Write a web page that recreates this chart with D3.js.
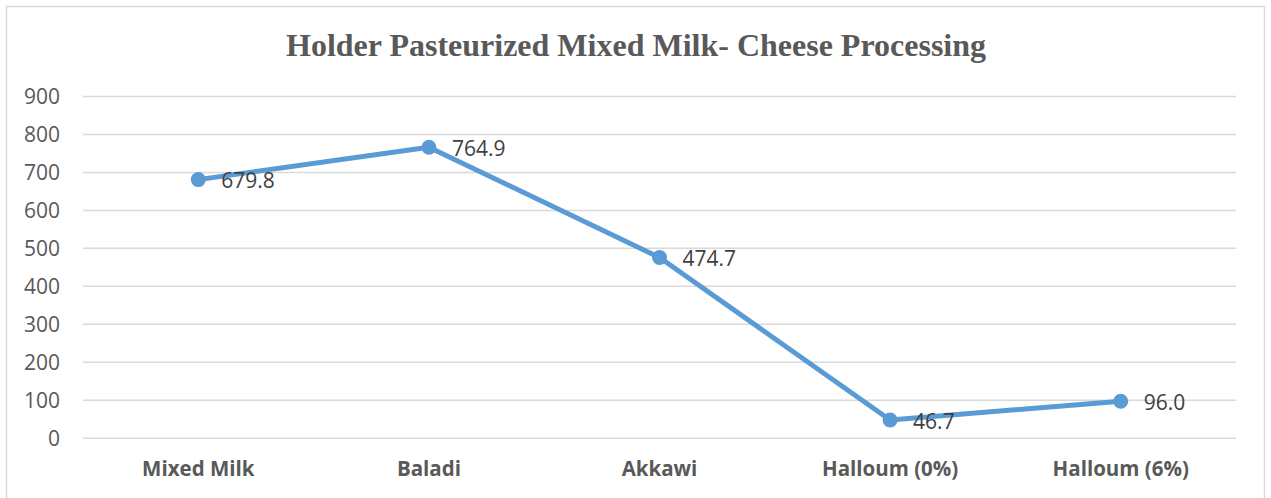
<!DOCTYPE html>
<html>
<head>
<meta charset="utf-8">
<script src="https://cdn.jsdelivr.net/npm/d3@7"></script>
<style>
  html, body { margin: 0; padding: 0; background: #fff; }
  svg { display: block; }
</style>
</head>
<body>
<svg id="chart" width="1271" height="498"></svg>
<script>
const categories = ["Mixed Milk", "Baladi", "Akkawi", "Halloum (0%)", "Halloum (6%)"];
const values = [679.8, 764.9, 474.7, 46.7, 96.0];
const yTicks = [0, 100, 200, 300, 400, 500, 600, 700, 800, 900];
const title = "Holder Pasteurized Mixed Milk- Cheese Processing";

const W = 1271, H = 498;
const margin = { left: 83, right: 35, top: 96, bottom: 60 };
const plotRight = W - margin.right;   // 1236
const plotBottom = 437.7;

const svg = d3.select("#chart");

// chart area frame
svg.append("rect")
  .attr("x", 6.5).attr("y", 6.5)
  .attr("width", 1258).attr("height", 520)
  .attr("fill", "#fff")
  .attr("stroke", "#d9d9d9")
  .attr("stroke-width", 1.5);

const x = d3.scaleBand()
  .domain(categories)
  .range([margin.left, plotRight]);

const y = d3.scaleLinear()
  .domain([0, 900])
  .range([plotBottom, margin.top]);

// title
svg.append("text")
  .attr("x", 636).attr("y", 56)
  .attr("text-anchor", "middle")
  .attr("font-family", "'Liberation Serif', 'Times New Roman', serif")
  .attr("font-weight", "bold")
  .attr("font-size", 32)
  .attr("fill", "#595959")
  .text(title);

// gridlines + y labels
const yAxis = d3.axisLeft(y)
  .tickValues(yTicks)
  .tickSize(-(plotRight - margin.left))
  .tickPadding(23)
  .tickFormat(d3.format("d"));

const gy = svg.append("g")
  .attr("transform", `translate(${margin.left},0)`)
  .call(yAxis);
gy.select(".domain").remove();
gy.selectAll(".tick line")
  .attr("stroke", "#d9d9d9")
  .attr("stroke-width", 1.5);
gy.selectAll(".tick text")
  .attr("fill", "#595959")
  .attr("font-family", "'Open Sans', 'Liberation Sans', sans-serif")
  .attr("font-size", 21)
  .attr("dy", "0.38em");

// x labels
const xAxis = d3.axisBottom(x).tickSize(0).tickPadding(0);
const gx = svg.append("g")
  .attr("transform", `translate(0,${plotBottom})`)
  .call(xAxis);
gx.select(".domain").remove();
gx.selectAll(".tick text")
  .attr("fill", "#595959")
  .attr("font-family", "'Open Sans', 'Liberation Sans', sans-serif")
  .attr("font-weight", "bold")
  .attr("font-size", 20.5)
  .attr("y", 38)
  .attr("dy", 0);

const pts = categories.map((c, i) => ({ c, v: values[i] }));
const cx = d => x(d.c) + x.bandwidth() / 2;

// series line
svg.append("path")
  .datum(pts)
  .attr("fill", "none")
  .attr("stroke", "#5b9bd5")
  .attr("stroke-width", 5)
  .attr("stroke-linejoin", "round")
  .attr("d", d3.line().x(cx).y(d => y(d.v)));

// markers
svg.selectAll("circle.pt")
  .data(pts)
  .join("circle")
  .attr("class", "pt")
  .attr("cx", cx)
  .attr("cy", d => y(d.v))
  .attr("r", 7.5)
  .attr("fill", "#5b9bd5");

// value labels
svg.selectAll("text.val")
  .data(pts)
  .join("text")
  .attr("class", "val")
  .attr("x", d => cx(d) + 23)
  .attr("y", d => y(d.v))
  .attr("dy", "0.41em")
  .attr("fill", "#404040")
  .attr("font-family", "'Open Sans', 'Liberation Sans', sans-serif")
  .attr("font-size", 21)
  .text(d => d.v.toFixed(1));
</script>
</body>
</html>
